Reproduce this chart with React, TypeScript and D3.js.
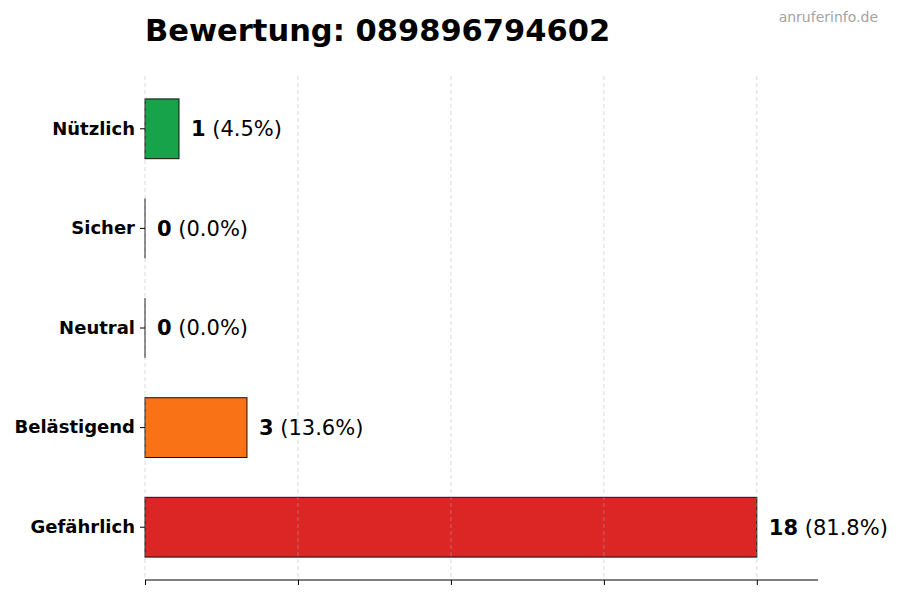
import { useEffect, useRef } from 'react';
import * as d3 from 'd3';

// Chart data
const categories = ['Nützlich', 'Sicher', 'Neutral', 'Belästigend', 'Gefährlich'];
const counts = [1, 0, 0, 3, 18];
const colors = ['#16a34a', '#9ca3af', '#6b7280', '#f97316', '#dc2626'];
const xTicks = [0, 4.5, 9, 13.5, 18];
const titleText = 'Bewertung: 089896794602';
const watermark = 'anruferinfo.de';

const FONT = '"DejaVu Sans", sans-serif';

export default function App() {
    const svgRef = useRef<SVGSVGElement>(null);

    useEffect(() => {
        if (!svgRef.current) return;
        const svg = d3.select(svgRef.current);
        svg.selectAll('*').remove();

        const width = 900;
        const height = 600;
        const margin = { top: 76, right: 82, bottom: 20, left: 145 };
        const total = d3.sum(counts);

        const x = d3.scaleLinear()
            .domain([0, (d3.max(counts) || 1) * 1.1])
            .range([margin.left, width - margin.right]);

        const y = d3.scaleBand()
            .domain(categories)
            .range([margin.top, height - margin.bottom])
            .paddingInner(0.4)
            .paddingOuter(0.23);

        // Title + watermark
        svg.append('text')
            .attr('x', margin.left)
            .attr('y', 41)
            .attr('font-family', FONT)
            .attr('font-size', 30.5)
            .attr('font-weight', 'bold')
            .text(titleText);

        svg.append('text')
            .attr('x', 878)
            .attr('y', 22)
            .attr('text-anchor', 'end')
            .attr('font-family', FONT)
            .attr('font-size', 14)
            .attr('fill', '#a3a3a3')
            .text(watermark);

        // Bars
        const data = categories.map((c, i) => ({ cat: c, value: counts[i], color: colors[i] }));

        svg.append('g')
            .selectAll('rect')
            .data(data.filter(d => d.value > 0))
            .enter()
            .append('rect')
            .attr('x', x(0))
            .attr('y', d => y(d.cat) || 0)
            .attr('width', d => x(d.value) - x(0))
            .attr('height', y.bandwidth())
            .attr('fill', d => d.color)
            .attr('stroke', '#111')
            .attr('stroke-width', 1);

        // Zero-length bars still show their edge
        svg.append('g')
            .selectAll('line')
            .data(data.filter(d => d.value === 0))
            .enter()
            .append('line')
            .attr('x1', x(0))
            .attr('x2', x(0))
            .attr('y1', d => y(d.cat) || 0)
            .attr('y2', d => (y(d.cat) || 0) + y.bandwidth())
            .attr('stroke', '#111')
            .attr('stroke-width', 1);

        // Grid (drawn on top, light)
        svg.append('g')
            .selectAll('line')
            .data(xTicks)
            .enter()
            .append('line')
            .attr('x1', d => x(d))
            .attr('x2', d => x(d))
            .attr('y1', margin.top)
            .attr('y2', height - margin.bottom)
            .attr('stroke', '#b0b0b0')
            .attr('stroke-opacity', 0.6)
            .attr('stroke-dasharray', '4,3')
            .attr('stroke-width', 0.8);

        // Bottom axis
        const xAxis = svg.append('g')
            .attr('transform', `translate(0,${height - margin.bottom})`)
            .call(d3.axisBottom(x).tickValues(xTicks).tickSize(5).tickFormat(() => ''));
        xAxis.select('.domain').attr('stroke', '#000').attr('d', `M${x.range()[0]},0H${x.range()[1]}`);
        xAxis.selectAll('.tick line').attr('stroke', '#000');

        // Left axis (labels + ticks, no spine)
        const yAxis = svg.append('g')
            .attr('transform', `translate(${margin.left},0)`)
            .call(d3.axisLeft(y).tickSize(5).tickPadding(5));
        yAxis.select('.domain').remove();
        yAxis.selectAll('.tick line').attr('stroke', '#000');
        yAxis.selectAll('.tick text')
            .attr('font-family', FONT)
            .attr('font-size', 18)
            .attr('font-weight', 'bold')
            .attr('fill', '#000');

        // Value labels
        const labels = svg.append('g')
            .selectAll('text')
            .data(data)
            .enter()
            .append('text')
            .attr('x', d => x(d.value) + 12)
            .attr('y', d => (y(d.cat) || 0) + y.bandwidth() / 2)
            .attr('dy', '0.35em')
            .attr('font-family', FONT)
            .attr('font-size', 21)
            .attr('fill', '#000');
        labels.append('tspan')
            .attr('font-weight', 'bold')
            .text(d => String(d.value));
        labels.append('tspan')
            .text(d => ` (${((d.value / total) * 100).toFixed(1)}%)`);
    }, []);

    return (
        <svg ref={svgRef} width={900} height={600}
            style={{ position: 'absolute', left: 0, top: 0, background: '#fff' }} />
    );
}
